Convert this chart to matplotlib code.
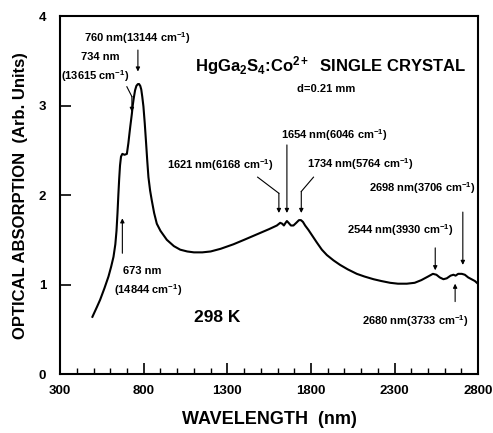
import matplotlib
matplotlib.use("Agg")
import matplotlib.pyplot as plt
from matplotlib.ticker import MultipleLocator

plt.rcParams['font.family'] = ['Liberation Sans', 'DejaVu Sans']
plt.rcParams['font.weight'] = 'bold'
plt.rcParams['mathtext.fontset'] = 'custom'
plt.rcParams['mathtext.rm'] = 'Liberation Sans:bold'
plt.rcParams['mathtext.it'] = 'Liberation Sans:bold'
plt.rcParams['mathtext.bf'] = 'Liberation Sans:bold'

# absorption spectrum (nm, arb. units)
wavelength = [493, 520, 539, 565, 589, 605, 619, 630, 637, 643, 648, 653, 658, 664,
              672, 685, 699, 708, 714, 719, 725, 729, 734, 740, 748, 756, 765, 772,
              779, 785, 791, 798, 806, 814, 821, 828, 838, 848, 862, 878, 900, 938,
              980, 1018, 1060, 1100, 1150, 1200, 1260, 1336, 1400, 1450, 1500, 1550,
              1596, 1616, 1628, 1638, 1648, 1656, 1666, 1680, 1695, 1712, 1728, 1740,
              1752, 1765, 1785, 1810, 1835, 1865, 1895, 1935, 1974, 2020, 2074, 2120,
              2174, 2220, 2273, 2320, 2373, 2420, 2460, 2500, 2529, 2550, 2570, 2592,
              2612, 2635, 2652, 2665, 2680, 2702, 2720, 2740, 2760, 2780, 2798]
absorption = [0.64, 0.75, 0.83, 0.96, 1.09, 1.20, 1.31, 1.45, 1.60, 1.80, 2.00, 2.18, 2.33, 2.43,
              2.46, 2.45, 2.46, 2.58, 2.68, 2.76, 2.85, 2.91, 3.00, 3.08, 3.17, 3.22, 3.24, 3.24,
              3.22, 3.18, 3.10, 2.99, 2.80, 2.58, 2.38, 2.20, 2.05, 1.94, 1.80, 1.68, 1.60, 1.50,
              1.43, 1.39, 1.37, 1.36, 1.36, 1.37, 1.40, 1.45, 1.50, 1.54, 1.58, 1.62,
              1.66, 1.69, 1.68, 1.66, 1.69, 1.71, 1.69, 1.66, 1.66, 1.69, 1.72, 1.72,
              1.70, 1.66, 1.61, 1.54, 1.47, 1.39, 1.33, 1.27, 1.22, 1.17, 1.12, 1.09,
              1.06, 1.04, 1.02, 1.01, 1.01, 1.02, 1.05, 1.09, 1.12, 1.11, 1.08, 1.06,
              1.07, 1.10, 1.11, 1.10, 1.12, 1.12, 1.11, 1.08, 1.06, 1.04, 1.01]

xticks = [300, 800, 1300, 1800, 2300, 2800]
yticks = [0, 1, 2, 3, 4]

# simple arrows: label, label x, label y, arrow x, arrow tail y, arrow head y
simple_labels = ["760 nm(13144 cm$^{-1}$)", "1654 nm(6046 cm$^{-1}$)",
                 "2698 nm(3706 cm$^{-1}$)", "2544 nm(3930 cm$^{-1}$)",
                 "2680 nm(3733 cm$^{-1}$)"]
simple_lx = [760, 1939, 2465, 2333, 2423]
simple_ly = [3.75, 2.67, 2.08, 1.61, 0.59]
simple_ax = [765, 1656, 2708, 2543, 2662]
simple_tail = [3.62, 2.56, 1.81, 1.41, 0.81]
simple_head = [3.38, 1.80, 1.22, 1.16, 1.01]

# bent leaders: label, label x, label y, leader start, bend, arrow head y
bent_labels = ["1621 nm(6168 cm$^{-1}$)", "1734 nm(5764 cm$^{-1}$)"]
bent_lx = [1257, 2094]
bent_ly = [2.34, 2.35]
bent_start = [(1481, 2.20), (1815, 2.20)]
bent_bend = [(1608, 2.02), (1742, 2.04)]
bent_head = [1.80, 1.80]

fig = plt.figure(figsize=(4.93, 4.33), dpi=100)
ax = fig.add_axes([0.122, 0.136, 0.848, 0.827])

ax.plot(wavelength, absorption, color='black', lw=1.5)

ax.set_xlim(300, 2800)
ax.set_ylim(0, 4)
ax.set_xticks(xticks)
ax.set_yticks(yticks)
ax.xaxis.set_minor_locator(MultipleLocator(100))
ax.tick_params(axis='both', which='major', direction='in', length=8, width=1.2,
               labelsize=9.5, pad=8)
ax.tick_params(axis='x', which='minor', direction='in', length=4, width=1.0)
ax.tick_params(axis='y', which='major', pad=10)
for s in ax.spines.values():
    s.set_linewidth(1.5)

ax.set_xlabel("WAVELENGTH  (nm)", fontsize=13, fontweight='bold', labelpad=10)
ax.set_ylabel("OPTICAL ABSORPTION  (Arb. Units)", fontsize=12, fontweight='bold', labelpad=8)

arrow_kw = dict(arrowstyle='-|>', color='black', lw=0.8, mutation_scale=6,
                shrinkA=0, shrinkB=0)
fs = 8

for lab, lx, ly, axx, t, h in zip(simple_labels, simple_lx, simple_ly,
                                   simple_ax, simple_tail, simple_head):
    ax.text(lx, ly, lab, fontsize=fs, ha='center', va='center')
    ax.annotate("", xy=(axx, h), xytext=(axx, t), arrowprops=arrow_kw)

for lab, lx, ly, st, bd, h in zip(bent_labels, bent_lx, bent_ly,
                                   bent_start, bent_bend, bent_head):
    ax.text(lx, ly, lab, fontsize=fs, ha='center', va='center')
    ax.plot([st[0], bd[0]], [st[1], bd[1]], color='black', lw=0.8)
    ax.annotate("", xy=(bd[0], h), xytext=bd, arrowprops=arrow_kw)

# 734 nm shoulder
ax.text(539, 3.54, "734 nm", fontsize=fs, ha='center', va='center')
ax.text(509, 3.33, "(13615 cm$^{-1}$)", fontsize=fs, ha='center', va='center')
ax.plot([699, 729], [3.21, 3.10], color='black', lw=0.8)
ax.annotate("", xy=(729, 2.93), xytext=(729, 3.10), arrowprops=arrow_kw)

# 673 nm shoulder
ax.text(790, 1.15, "673 nm", fontsize=fs, ha='center', va='center')
ax.text(827, 0.94, "(14844 cm$^{-1}$)", fontsize=fs, ha='center', va='center')
ax.annotate("", xy=(672, 1.74), xytext=(672, 1.35), arrowprops=arrow_kw)

ax.text(1915, 3.45, "HgGa$_2$S$_4$:Co$^{2+}$  SINGLE CRYSTAL", fontsize=12,
        ha='center', va='center')
ax.text(1891, 3.18, "d=0.21 mm", fontsize=fs, ha='center', va='center')
ax.text(1240, 0.63, "298 K", fontsize=12.5, ha='center', va='center')

fig.savefig("out.png", dpi=100)
